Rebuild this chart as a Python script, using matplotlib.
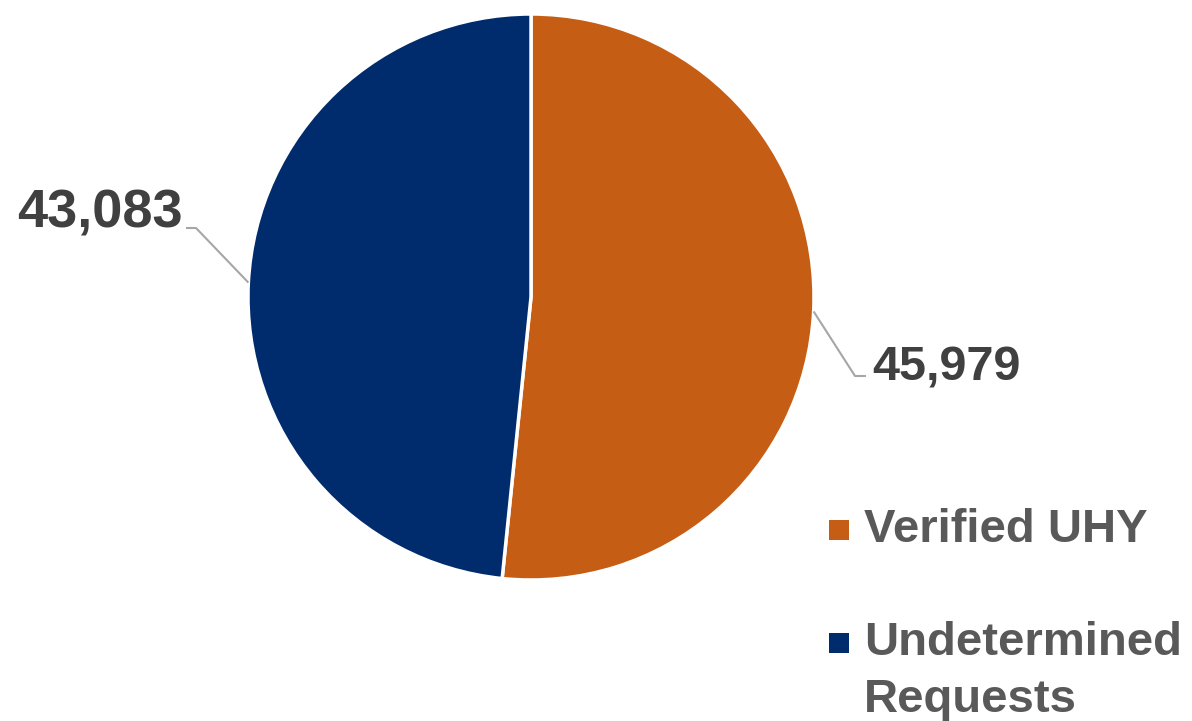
import numpy as np
import matplotlib
matplotlib.use("Agg")
import matplotlib.pyplot as plt
from matplotlib.patches import Rectangle

categories = ["Verified UHY", "Undetermined\nRequests"]
values = [45979, 43083]
value_labels = ["45,979", "43,083"]
colors = ["#C65D15", "#002C6E"]

plt.rcParams['font.family'] = ['Liberation Sans', 'DejaVu Sans']

W, H = 1192, 721
fig = plt.figure(figsize=(W / 100, H / 100), dpi=100)
ax = fig.add_axes([0, 0, 1, 1])

cx, cy, r = 531, H - 297, 283
wedges, _ = ax.pie(values, colors=colors, startangle=90, counterclock=False,
                   center=(cx, cy), radius=r, frame=True,
                   wedgeprops=dict(edgecolor='white', linewidth=2.5))
ax.set_xlim(0, W)
ax.set_ylim(0, H)
ax.set_aspect('equal')
ax.axis('off')

# data labels with leader lines (text x, baseline y, align, size)
text_pos = [(872, H - 380, 'left', 35), (183, H - 227, 'right', 39)]
elbow = [(855, H - 376, 866, H - 376), (196, H - 228, 186, H - 228)]
for w, lab, (tx, ty, ha, fs), (ex, ey, ex2, ey2) in zip(wedges, value_labels, text_pos, elbow):
    ang = np.deg2rad((w.theta1 + w.theta2) / 2)
    px, py = cx + r * np.cos(ang), cy + r * np.sin(ang)
    ax.plot([px, ex, ex2], [py, ey, ey2], color='#A6A6A6', lw=1.5, solid_capstyle='butt')
    ax.text(tx, ty, lab, ha=ha, va='baseline', fontsize=fs, fontweight='bold', color='#404040')

# legend
leg_y = [H - 530, H - 643]
for c, name, ly in zip(colors, categories, leg_y):
    ax.add_patch(Rectangle((829, ly - 10), 20, 20, facecolor=c, edgecolor='none'))
    for i, ln in enumerate(name.split('\n')):
        ax.text(864, ly - i * 57, ln, ha='left', va='center', fontsize=34,
                fontweight='bold', color='#595959')

fig.savefig('out.png', dpi=100, facecolor='white')
